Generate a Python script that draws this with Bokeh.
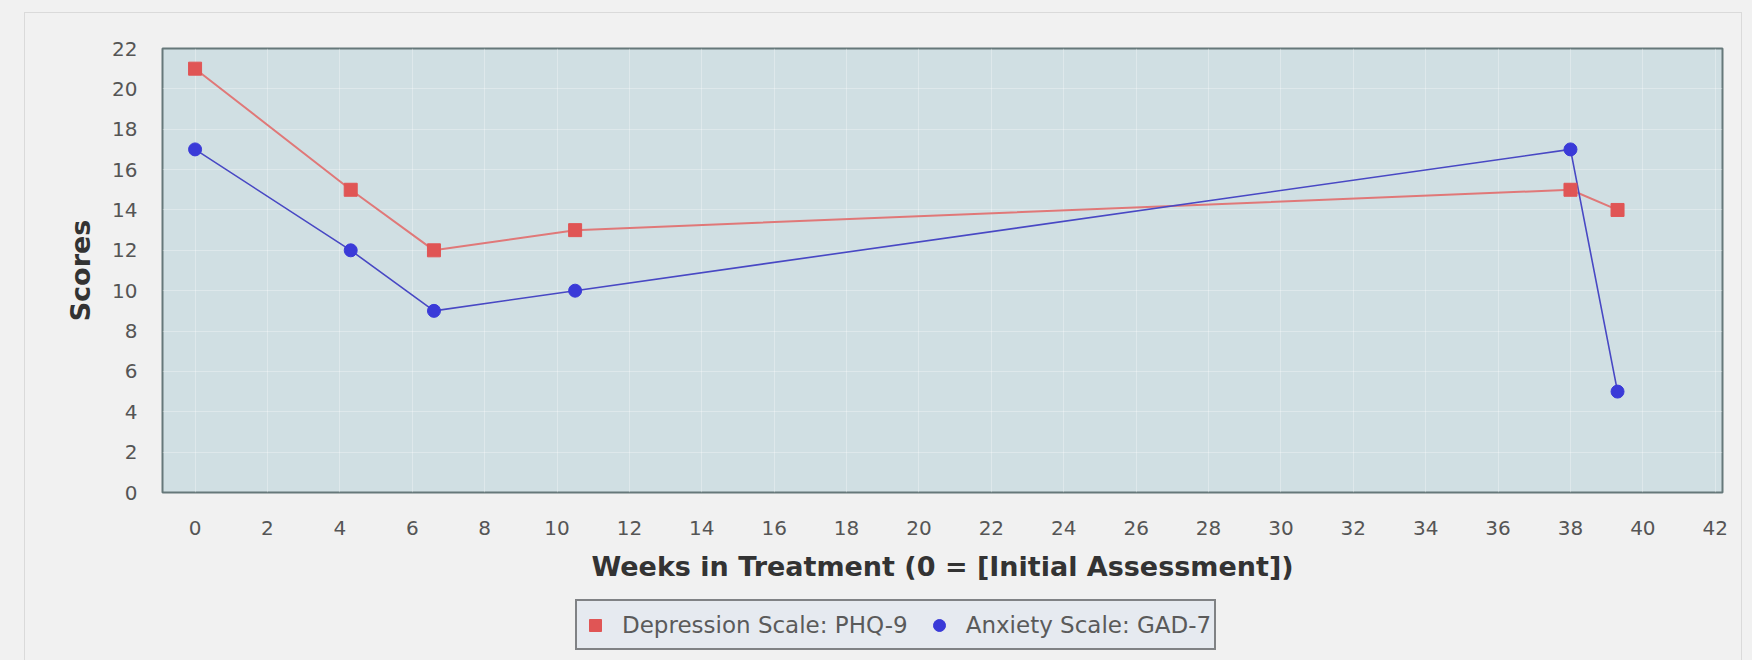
from bokeh.plotting import figure
from bokeh.models import Range1d, FixedTicker, Legend, LegendItem, InlineStyleSheet
from bokeh.layouts import column
from bokeh.embed import file_html
from bokeh.resources import INLINE

# ---- data ----
weeks = [0, 4.3, 6.6, 10.5, 38, 39.3]
phq9 = [21, 15, 12, 13, 15, 14]      # Depression Scale: PHQ-9
gad7 = [17, 12, 9, 10, 17, 5]        # Anxiety Scale: GAD-7
x_ticks = list(range(0, 43, 2))
y_ticks = list(range(0, 23, 2))
series_names = ["Depression Scale: PHQ-9", "Anxiety Scale: GAD-7"]
x_title = "Weeks in Treatment (0 = [Initial Assessment])"
y_title = "Scores"

FONT = "DejaVu Sans"
PAGE_BG = "#f1f1f1"
RED_LINE, RED_MARK = "#e07878", "#e05555"
BLUE_LINE, BLUE_MARK = "#4848c4", "#3a3ad8"

p = figure(width=1752, height=595, output_backend="svg", toolbar_location=None,
           x_range=Range1d(-0.9, 42.2), y_range=Range1d(0, 22),
           min_border_left=162, min_border_right=30, min_border_top=48,
           min_border_bottom=103)

p.background_fill_color = "#d0dfe3"
p.border_fill_color = PAGE_BG
p.outline_line_color = "#66787a"
p.outline_line_width = 2

p.xaxis.ticker = FixedTicker(ticks=x_ticks)
p.yaxis.ticker = FixedTicker(ticks=y_ticks)
p.xaxis.axis_label = x_title
p.yaxis.axis_label = y_title

for ax in (p.xaxis, p.yaxis):
    ax.axis_line_color = None
    ax.major_tick_line_color = None
    ax.minor_tick_line_color = None
    ax.major_label_text_font = FONT
    ax.major_label_text_font_size = "20px"
    ax.major_label_text_color = "#555555"
    ax.axis_label_text_font = FONT
    ax.axis_label_text_font_style = "bold"
    ax.axis_label_text_font_size = "27px"
    ax.axis_label_text_color = "#333333"

p.xaxis.major_label_standoff = 22
p.xaxis.axis_label_standoff = 13
p.yaxis.major_label_standoff = 19
p.yaxis.axis_label_standoff = 13

p.xgrid.ticker = FixedTicker(ticks=x_ticks)
p.ygrid.ticker = FixedTicker(ticks=y_ticks)
for g in (p.xgrid, p.ygrid):
    g.grid_line_color = "white"
    g.grid_line_alpha = 0.3
    g.grid_line_width = 1

# series
p.line(weeks, phq9, line_color=RED_LINE, line_width=2)
p.line(weeks, gad7, line_color=BLUE_LINE, line_width=1.6)
p.scatter(weeks, phq9, marker="square", size=13,
          fill_color=RED_MARK, line_color=RED_MARK)
p.scatter(weeks, gad7, marker="circle", size=13,
          fill_color=BLUE_MARK, line_color=BLUE_MARK)

# ---- legend strip below the chart (its ranges keep the key glyphs off-view) ----
q = figure(width=1752, height=65, output_backend="svg", toolbar_location=None,
           x_range=Range1d(100, 101), y_range=Range1d(100, 101),
           min_border_left=0, min_border_right=0, min_border_top=0,
           min_border_bottom=0)
q.axis.visible = False
q.grid.visible = False
q.outline_line_color = None
q.background_fill_alpha = 0
q.border_fill_color = PAGE_BG
k1 = q.scatter(weeks, phq9, marker="square", size=13,
               fill_color=RED_MARK, line_color=RED_MARK)
k2 = q.scatter(weeks, gad7, marker="circle", size=13,
               fill_color=BLUE_MARK, line_color=BLUE_MARK)

legend = Legend(items=[LegendItem(label=series_names[0], renderers=[k1]),
                       LegendItem(label=series_names[1], renderers=[k2])],
                orientation="horizontal", location=(413, 10), margin=0,
                padding=3, spacing=16, glyph_width=30, glyph_height=30,
                label_standoff=12, label_height=41)
legend.label_text_font = FONT
legend.label_text_font_size = "23px"
legend.label_text_color = "#5a5a5a"
legend.border_line_color = "#1a1a1a"
legend.border_line_width = 2
legend.background_fill_color = "#e6eaf0"
legend.background_fill_alpha = 1.0
q.add_layout(legend, "center")

panel_css = InlineStyleSheet(css="""
:host { background-color: #f1f1f1; position: relative; }
:host::after {
  content: ""; position: absolute; left: 24px; top: 12px; right: 10px;
  bottom: -20px; border: 1px solid #dadada; pointer-events: none;
}
""")
layout = column(p, q, spacing=0, stylesheets=[panel_css])
open("out.html", "w").write(file_html(layout, INLINE))
